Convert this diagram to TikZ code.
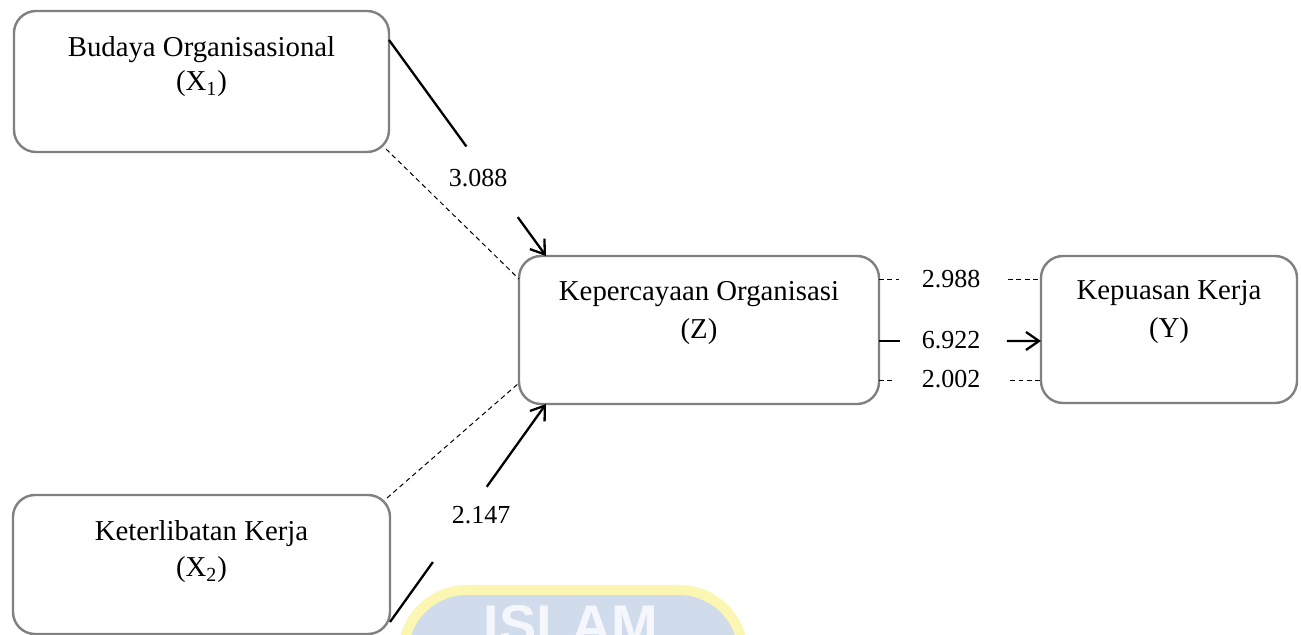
\documentclass[tikz,border=0pt]{standalone}
\usepackage{fontspec}
\setmainfont{Liberation Serif}
\newfontfamily\markfont{Liberation Sans}
\usetikzlibrary{calc,arrows.meta}
\definecolor{boxgray}{RGB}{128,128,128}
\definecolor{markblue}{RGB}{208,219,235}
\definecolor{markyellow}{RGB}{251,246,178}
\definecolor{markletter}{RGB}{245,247,252}
\begin{document}
\begin{tikzpicture}[x=0.5pt,y=-0.5pt,
  box/.style={draw=boxgray, line width=1.2pt, rounded corners=11pt,
    inner sep=0pt, outer sep=0pt, fill=white},
  varname/.style={font=\fontsize{14.4}{17}\selectfont, anchor=base, inner sep=0pt},
  coef/.style={font=\fontsize{13}{15}\selectfont, inner sep=0pt},
  strong/.style={line width=1.15pt},
  weak/.style={line width=0.5pt, dash pattern=on 2.4pt off 1.8pt},
  tip/.style={-{Straight Barb[length=6.5pt,width=9pt]}}
]
\useasboundingbox (0,0) rectangle (1301,635);
\clip (0,0) rectangle (1301,635);
\fill[white] (0,0) rectangle (1301,635);

% faint seal behind the lower part of the page
\path[fill=markblue, draw=markyellow, line width=5pt, rounded corners=32pt]
  (403,700) -- (403,590) -- (743,590) -- (743,700);
\node[font=\markfont\bfseries\fontsize{28}{30}\selectfont, text=markletter,
  anchor=base, inner sep=0pt] (seal) at (571,645) {ISLAM};

% boxes
\node[box, minimum width=187.5pt, minimum height=70.5pt] (x1) at (201.5,81.5) {};
\node[box, minimum width=188.5pt, minimum height=69.5pt] (x2) at (201.5,564.5) {};
\node[box, minimum width=180pt, minimum height=74pt] (z) at (699,330) {};
\node[box, minimum width=128pt, minimum height=73.5pt] (y) at (1169,329.5) {};

% box texts
\node[varname] (x1a) at ($(x1.north)+(0,46)$) {Budaya Organisasional};
\node[varname] (x1b) at ($(x1a.base)+(0,34)$) {(X\textsubscript{1})};
\node[varname] (x2a) at ($(x2.north)+(0,46)$) {Keterlibatan Kerja};
\node[varname] (x2b) at ($(x2a.base)+(0,36)$) {(X\textsubscript{2})};
\node[varname] (za) at ($(z.north)+(0,45)$) {Kepercayaan Organisasi};
\node[varname] (zb) at ($(za.base)+(0,38)$) {(Z)};
\node[varname] (ya) at ($(y.north)+(0,44)$) {Kepuasan Kerja};
\node[varname] (yb) at ($(ya.base)+(0,38)$) {(Y)};

% end points on the box borders
\coordinate (a1)  at ($(x1.north east)+(0,29)$);
\coordinate (a1t) at ($(z.north west)+(27,0)$);
\coordinate (d1)  at ($(x1.south east)+(-3,-3)$);
\coordinate (d1t) at ($(z.north west)+(0,23)$);
\coordinate (b1)  at ($(x2.south east)+(0,-12)$);
\coordinate (b1t) at ($(z.south west)+(27,0)$);
\coordinate (d2)  at ($(x2.north east)+(-3,3)$);
\coordinate (d2t) at ($(z.south west)+(0,-21)$);
\coordinate (c1)  at ($(z.north east)+(0,24)$);
\coordinate (c1t) at ($(y.north west)+(0,24)$);
\coordinate (c2)  at ($(z.east)+(0,11)$);
\coordinate (c2t) at ($(y.west)+(0,11.5)$);
\coordinate (c3)  at ($(z.south east)+(0,-23)$);
\coordinate (c3t) at ($(y.south west)+(0,-22)$);

% X1 -> Z
\draw[weak] (d1) -- (d1t);
\draw[strong] (a1) -- ($(a1)!0.493!(a1t)$);
\draw[strong, tip] ($(a1)!0.82!(a1t)$) -- (a1t);
\node[coef] (k1) at (478,178) {3.088};

% X2 -> Z
\draw[weak] (d2) -- (d2t);
\draw[strong] (b1) -- ($(b1)!0.275!(b1t)$);
\draw[strong, tip] ($(b1)!0.62!(b1t)$) -- (b1t);
\node[coef] (k2) at (481,515.5) {2.147};

% Z -> Y
\draw[weak] (c1) -- ($(c1)!0.123!(c1t)$);
\draw[weak] ($(c1)!0.796!(c1t)$) -- (c1t);
\node[coef] (k3) at (951,279) {2.988};
\draw[strong] (c2) -- ($(c2)!0.13!(c2t)$);
\draw[strong, tip] ($(c2)!0.79!(c2t)$) -- (c2t);
\node[coef] (k4) at (951,340) {6.922};
\draw[weak] (c3) -- ($(c3)!0.1!(c3t)$);
\draw[weak] ($(c3)!0.81!(c3t)$) -- (c3t);
\node[coef] (k5) at (951,379) {2.002};
\end{tikzpicture}
\end{document}
